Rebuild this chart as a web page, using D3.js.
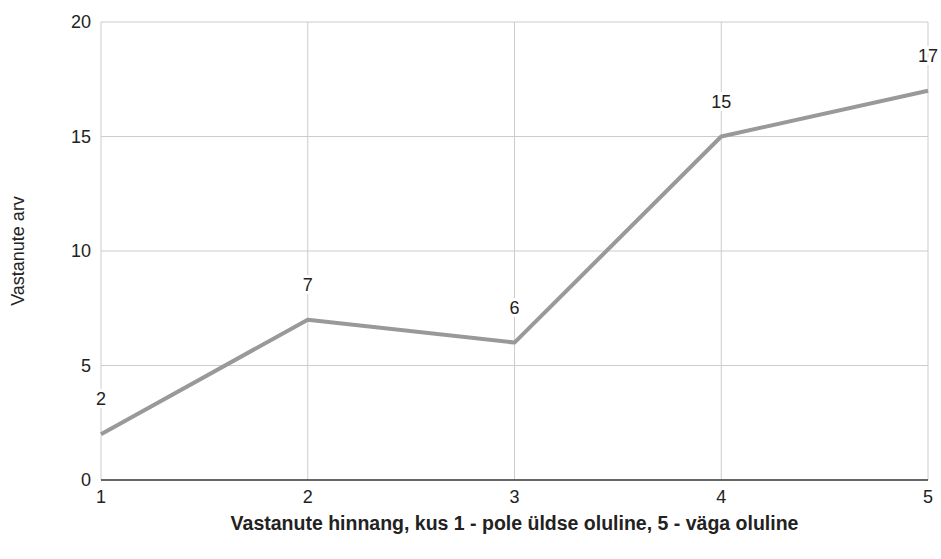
<!DOCTYPE html>
<html>
<head>
<meta charset="utf-8">
<script src="https://cdn.jsdelivr.net/npm/d3@7"></script>
<style>
  body { margin: 0; background: #fff; }
  svg { display: block; font-family: "Liberation Sans", Arial, sans-serif; }
</style>
</head>
<body>
<svg id="chart" width="941" height="559"></svg>
<script>
(function () {
    'use strict';

    const WIDTH = 941;
    const HEIGHT = 559;

    // data
    const ratings = [1, 2, 3, 4, 5];
    const counts = [2, 7, 6, 15, 17];
    const yTicks = [0, 5, 10, 15, 20];

    const margin = {top: 22, right: 13, bottom: 79, left: 101};
    const innerW = WIDTH - margin.left - margin.right;
    const innerH = HEIGHT - margin.top - margin.bottom;

    let svg = d3.select('#chart');
    let g = svg.append('g').attr('transform', `translate(${margin.left},${margin.top})`);

    let x = d3.scaleLinear().domain([1, 5]).range([0, innerW]);
    let y = d3.scaleLinear().domain([0, 20]).range([innerH, 0]);

    // grid
    g.append('g')
        .selectAll('line')
        .data(yTicks.slice(1))
        .join('line')
        .attr('x1', 0).attr('x2', innerW)
        .attr('y1', d => y(d)).attr('y2', d => y(d))
        .attr('stroke', '#cccccc').attr('stroke-width', 1);

    g.append('g')
        .selectAll('line')
        .data(ratings)
        .join('line')
        .attr('x1', d => x(d)).attr('x2', d => x(d))
        .attr('y1', 0).attr('y2', innerH)
        .attr('stroke', '#cccccc').attr('stroke-width', 1);

    // baseline
    g.append('line')
        .attr('x1', 0).attr('x2', innerW)
        .attr('y1', y(0)).attr('y2', y(0))
        .attr('stroke', '#333333').attr('stroke-width', 1.3);

    // y tick labels
    g.append('g')
        .selectAll('text')
        .data(yTicks)
        .join('text')
        .attr('x', -10)
        .attr('y', d => y(d))
        .attr('dy', '0.35em')
        .attr('text-anchor', 'end')
        .attr('font-size', 18)
        .attr('fill', '#222')
        .text(d => d);

    // x tick labels
    g.append('g')
        .selectAll('text')
        .data(ratings)
        .join('text')
        .attr('x', d => x(d))
        .attr('y', innerH + 23)
        .attr('text-anchor', 'middle')
        .attr('font-size', 18)
        .attr('fill', '#222')
        .text(d => d);

    // line
    let pts = ratings.map((r, i) => [r, counts[i]]);
    g.append('path')
        .datum(pts)
        .attr('fill', 'none')
        .attr('stroke', '#999999')
        .attr('stroke-width', 4)
        .attr('stroke-linejoin', 'round')
        .attr('d', d3.line().x(d => x(d[0])).y(d => y(d[1])));

    // value labels with white halo
    let labels = g.append('g')
        .selectAll('text')
        .data(pts)
        .join('text')
        .attr('x', d => x(d[0]))
        .attr('y', d => y(d[1]) - 29)
        .attr('text-anchor', 'middle')
        .attr('font-size', 18)
        .text(d => d[1]);

    labels.clone(true).lower()
        .attr('stroke', '#fff').attr('stroke-width', 6).attr('fill', '#fff');
    labels.attr('fill', '#222');

    // axis titles
    svg.append('text')
        .attr('x', margin.left + innerW / 2)
        .attr('y', 530)
        .attr('text-anchor', 'middle')
        .attr('font-size', 19.5)
        .attr('font-weight', 'bold')
        .attr('fill', '#222')
        .text('Vastanute hinnang, kus 1 - pole üldse oluline, 5 - väga oluline');

    svg.append('text')
        .attr('transform', `translate(24,${margin.top + innerH / 2}) rotate(-90)`)
        .attr('text-anchor', 'middle')
        .attr('font-size', 18)
        .attr('fill', '#222')
        .text('Vastanute arv');
})();
</script>
</body>
</html>
